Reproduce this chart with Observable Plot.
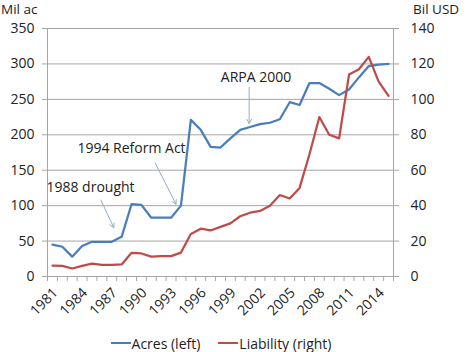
<!DOCTYPE html>
<html><head><meta charset="utf-8">
<script src="https://cdn.jsdelivr.net/npm/d3@7"></script>
<script src="https://cdn.jsdelivr.net/npm/@observablehq/plot@0.6"></script>
<style>
body{margin:0;background:#fff;font-family:"Open Sans",sans-serif;color:#222;}
#chart{width:467px;height:352px;position:relative;overflow:hidden;}
.axlab{position:absolute;top:0px;font-size:13.5px;line-height:19px;height:19px;color:#222;white-space:nowrap;}
.legend{position:absolute;left:0;top:332px;width:442px;padding-right:25px;height:22px;display:flex;justify-content:center;align-items:center;font-size:14px;color:#222;}
.legend span.sw{display:inline-block;width:20px;height:2px;margin-right:1px;vertical-align:middle;}
.legend .item{display:flex;align-items:center;margin:0 9px;}
</style></head><body>
<div id="chart"></div>
<script>
const years = [1981,1982,1983,1984,1985,1986,1987,1988,1989,1990,1991,1992,1993,1994,1995,1996,1997,1998,1999,2000,2001,2002,2003,2004,2005,2006,2007,2008,2009,2010,2011,2012,2013,2014,2015];
const acres = [45,42,28,43,49,49,49,56,102,101,83,83,83,100,221,207,183,182,195,207,211,215,217,222,246,242,273,273,265,256,264,281,297,299,300];
const liability = [6.2,6,4.5,6,7.3,6.5,6.5,6.8,13.4,13,11.2,11.5,11.5,13.5,24,27,26,28,30,34,36,37,40,46,44,50,69,90,80,78,114,117,124,110,102];
const xTickLabels = [1981,1984,1987,1990,1993,1996,1999,2002,2005,2008,2011,2014];
const leftTicks = [0,50,100,150,200,250,300,350];
const rightTicks = [0,20,40,60,80,100,120,140];
const seriesNames = ["Acres (left)","Liability (right)"];
const seriesColors = ["#4a7ebb","#be4b48"];
const annotations = [
  {label:"ARPA 2000", tx:2001.6, ty:281, x1:2000.9, y1:267, x2:2000.9, y2:216},
  {label:"1994 Reform Act", tx:1989.0, ty:181, x1:1991.4, y1:160, x2:1993.5, y2:102},
  {label:"1988 drought", tx:1984.85, ty:126, x1:1985.9, y1:108, x2:1987.2, y2:69}
];

const k = leftTicks[leftTicks.length-1] / rightTicks[rightTicks.length-1];
const xDomain = [years[0]-0.5, years[years.length-1]+0.5];
const bounds = years.map(y=>y-0.5).concat([xDomain[1]]);
const axisColor = "#a6a6a6";

const plot = Plot.plot({
  width: 467, height: 330,
  marginLeft: 47, marginRight: 74, marginTop: 28, marginBottom: 54,
  style: {fontFamily: "Open Sans, sans-serif", fontSize: "14px", color: "#222", background: "#fff"},
  x: {type: "linear", domain: xDomain},
  y: {domain: [0, leftTicks[leftTicks.length-1]]},
  marks: [
    Plot.gridY(leftTicks, {stroke: axisColor, strokeOpacity: 1, strokeWidth: 1}),
    Plot.ruleX(xDomain, {stroke: axisColor, strokeWidth: 1}),
    Plot.ruleY([0], {stroke: axisColor, strokeWidth: 1}),
    Plot.axisY(leftTicks, {anchor: "left", tickSize: 5, tickPadding: 8, label: null, stroke: axisColor, fill: "#222", fontSize: 14}),
    Plot.axisY(rightTicks.map(d=>d*k), {anchor: "right", tickSize: 5, tickPadding: 12, label: null, stroke: axisColor, fill: "#222", tickFormat: d => String(Math.round(d/k)), fontSize: 14}),
    Plot.axisX(bounds, {anchor: "bottom", tickSize: 5, tickFormat: () => "", label: null, stroke: axisColor}),
    Plot.axisX(xTickLabels, {anchor: "bottom", tickSize: 0, tickPadding: 14, tickRotate: -45, label: null, tickFormat: d => String(d), fill: "#222", fontSize: 14, dx: 3}),
    Plot.line(years, {x: d => d, y: (d,i) => acres[i], stroke: seriesColors[0], strokeWidth: 2.25}),
    Plot.line(years, {x: d => d, y: (d,i) => liability[i]*k, stroke: seriesColors[1], strokeWidth: 2.25}),
    Plot.arrow(annotations, {x1: "x1", y1: "y1", x2: "x2", y2: "y2", stroke: "#93adc9", strokeWidth: 1, headLength: 7, bend: 0}),
    Plot.text(annotations, {x: "tx", y: "ty", text: "label", fill: "#222", fontSize: 14})
  ]
});
const chart = document.getElementById("chart");
chart.appendChild(plot);

const l1 = document.createElement("div"); l1.className = "axlab"; l1.style.left = "1px"; l1.textContent = "Mil ac"; chart.appendChild(l1);
const l2 = document.createElement("div"); l2.className = "axlab"; l2.style.left = "413px"; l2.textContent = "Bil USD"; chart.appendChild(l2);

const leg = document.createElement("div"); leg.className = "legend";
seriesNames.forEach((n,i) => {
  const it = document.createElement("div"); it.className = "item";
  const sw = document.createElement("span"); sw.className = "sw"; sw.style.background = seriesColors[i];
  const t = document.createElement("span"); t.textContent = n;
  it.appendChild(sw); it.appendChild(t); leg.appendChild(it);
});
chart.appendChild(leg);
</script>
</body></html>
